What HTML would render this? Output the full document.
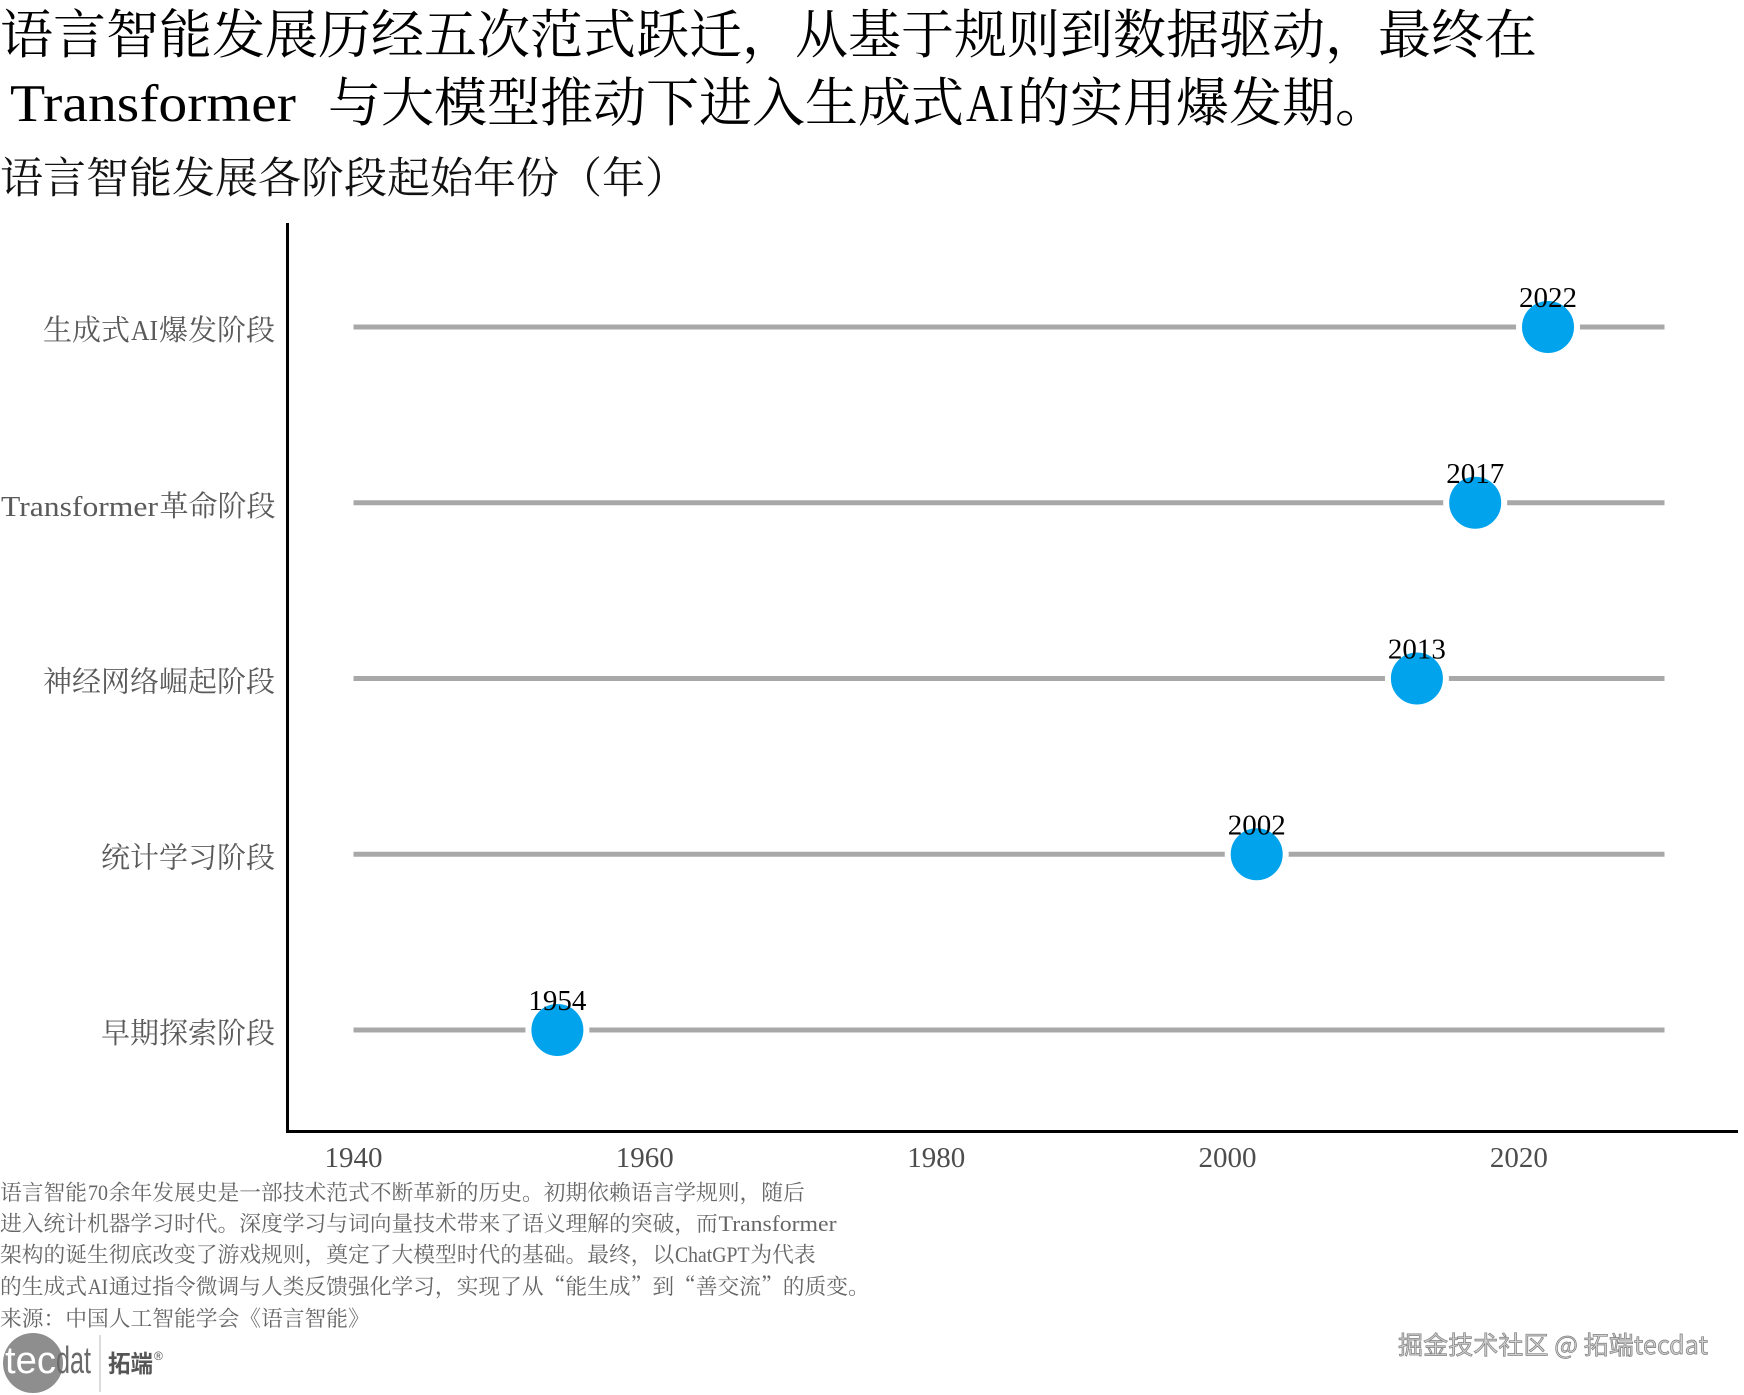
<!DOCTYPE html>
<html>
<head>
<meta charset="utf-8">
<style>
  html,body{margin:0;padding:0;background:#fff;}
  svg{display:block;}
  .cjk{font-family:"Noto Serif CJK SC","Liberation Serif",serif;}
  .mono{font-family:"Liberation Serif","Noto Serif CJK SC",serif;}
  .num{font-family:"Liberation Serif","Noto Serif CJK SC",serif;}
</style>
</head>
<body>
<svg width="1744" height="1395" viewBox="0 0 1744 1395" xmlns="http://www.w3.org/2000/svg">
  <rect x="0" y="0" width="1744" height="1395" fill="#ffffff"/>

  <!-- Title -->
  <text class="cjk" x="0" y="53" font-size="53" fill="#000" textLength="1537" lengthAdjust="spacing">语言智能发展历经五次范式跃迁，从基于规则到数据驱动，最终在</text>
  <text class="mono" x="10" y="121" font-size="53" fill="#000" textLength="286" lengthAdjust="spacingAndGlyphs">Transformer</text>
  <text class="cjk" x="328" y="121" font-size="53" fill="#000" textLength="636" lengthAdjust="spacing">与大模型推动下进入生成式</text>
  <text class="mono" x="966" y="121" font-size="53" fill="#000" textLength="48" lengthAdjust="spacingAndGlyphs">AI</text>
  <text class="cjk" x="1017" y="121" font-size="53" fill="#000" textLength="371" lengthAdjust="spacing">的实用爆发期。</text>

  <!-- Subtitle -->
  <text class="cjk" x="0" y="193" font-size="43" fill="#111" textLength="688" lengthAdjust="spacing">语言智能发展各阶段起始年份（年）</text>

  <!-- Axes -->
  <line x1="287.5" y1="223" x2="287.5" y2="1133" stroke="#000" stroke-width="3"/>
  <line x1="286" y1="1131.5" x2="1738" y2="1131.5" stroke="#000" stroke-width="3"/>

  <!-- Gray lines -->
  <g stroke="#a8a8a8" stroke-width="5">
    <line x1="353.5" y1="327" x2="1664.5" y2="327"/>
    <line x1="353.5" y1="502.75" x2="1664.5" y2="502.75"/>
    <line x1="353.5" y1="678.5" x2="1664.5" y2="678.5"/>
    <line x1="353.5" y1="854.25" x2="1664.5" y2="854.25"/>
    <line x1="353.5" y1="1030" x2="1664.5" y2="1030"/>
  </g>

  <!-- Dots -->
  <g fill="#00a3ec" stroke="#ffffff" stroke-width="6">
    <circle cx="1548" cy="327" r="29"/>
    <circle cx="1475.2" cy="502.75" r="29"/>
    <circle cx="1416.9" cy="678.5" r="29"/>
    <circle cx="1256.7" cy="854.25" r="29"/>
    <circle cx="557.4" cy="1030" r="29"/>
  </g>

  <!-- Value labels -->
  <g class="num" font-size="29" fill="#000" text-anchor="middle">
    <text x="1548" y="307">2022</text>
    <text x="1475.2" y="482.75">2017</text>
    <text x="1416.9" y="658.5">2013</text>
    <text x="1256.7" y="834.25">2002</text>
    <text x="557.4" y="1010">1954</text>
  </g>

  <!-- Y labels -->
  <g font-size="29" fill="#5a5a5a">
    <text class="cjk" x="43" y="340" textLength="87" lengthAdjust="spacing">生成式</text>
    <text class="mono" x="131" y="340" textLength="27" lengthAdjust="spacingAndGlyphs">AI</text>
    <text class="cjk" x="159" y="340" textLength="116" lengthAdjust="spacing">爆发阶段</text>

    <text class="mono" x="1" y="515.75" textLength="157" lengthAdjust="spacingAndGlyphs">Transformer</text>
    <text class="cjk" x="159.5" y="515.75" textLength="116" lengthAdjust="spacing">革命阶段</text>

    <text class="cjk" x="43" y="691.5" textLength="232" lengthAdjust="spacing">神经网络崛起阶段</text>
    <text class="cjk" x="101" y="867.25" textLength="174" lengthAdjust="spacing">统计学习阶段</text>
    <text class="cjk" x="101" y="1043" textLength="174" lengthAdjust="spacing">早期探索阶段</text>
  </g>

  <!-- X tick labels -->
  <g class="num" font-size="29" fill="#4d4d4d" text-anchor="middle">
    <text x="353.5" y="1167">1940</text>
    <text x="644.8" y="1167">1960</text>
    <text x="936.2" y="1167">1980</text>
    <text x="1227.5" y="1167">2000</text>
    <text x="1518.9" y="1167">2020</text>
  </g>

  <!-- Caption -->
  <g font-size="21.75" fill="#666">
    <text class="cjk" x="0" y="1200" textLength="87" lengthAdjust="spacing">语言智能</text>
    <text class="mono" x="88" y="1200" textLength="20" lengthAdjust="spacingAndGlyphs">70</text>
    <text class="cjk" x="108.75" y="1200" textLength="696" lengthAdjust="spacing">余年发展史是一部技术范式不断革新的历史。初期依赖语言学规则，随后</text>

    <text class="cjk" x="0" y="1231" textLength="717.75" lengthAdjust="spacing">进入统计机器学习时代。深度学习与词向量技术带来了语义理解的突破，而</text>
    <text class="mono" x="718.5" y="1231" textLength="118" lengthAdjust="spacingAndGlyphs">Transformer</text>

    <text class="cjk" x="0" y="1262" textLength="674.25" lengthAdjust="spacing">架构的诞生彻底改变了游戏规则，奠定了大模型时代的基础。最终，以</text>
    <text class="mono" x="675" y="1262" textLength="74.5" lengthAdjust="spacingAndGlyphs">ChatGPT</text>
    <text class="cjk" x="750.4" y="1262" textLength="65.25" lengthAdjust="spacing">为代表</text>

    <text class="cjk" x="0" y="1294" textLength="87" lengthAdjust="spacing">的生成式</text>
    <text class="mono" x="88" y="1294" textLength="20" lengthAdjust="spacingAndGlyphs">AI</text>
    <text class="cjk" x="108.75" y="1294" textLength="761" lengthAdjust="spacing">通过指令微调与人类反馈强化学习，实现了从“能生成”到“善交流”的质变。</text>

    <text class="cjk" x="0" y="1326" textLength="369.75" lengthAdjust="spacing">来源：中国人工智能学会《语言智能》</text>
  </g>

  <!-- Logo -->
  <circle cx="33" cy="1363" r="30" fill="#8e8e8e"/>
  <text x="5" y="1373" font-family="Liberation Sans, sans-serif" font-size="38" fill="#ffffff" textLength="51" lengthAdjust="spacingAndGlyphs">tec</text>
  <text x="56" y="1373" font-family="Liberation Sans, sans-serif" font-size="38" fill="#6a6a6a" textLength="35" lengthAdjust="spacingAndGlyphs">dat</text>
  <line x1="100" y1="1335" x2="100" y2="1392" stroke="#c4c4c4" stroke-width="1.2"/>
  <text x="108" y="1372" font-family="Noto Sans CJK SC, sans-serif" font-weight="bold" font-size="24" fill="#555" textLength="45" lengthAdjust="spacingAndGlyphs">拓端</text>
  <text x="154" y="1360" font-family="Liberation Sans, sans-serif" font-size="12" fill="#555">®</text>

  <!-- Watermark -->
  <text x="1398" y="1354" font-family="Noto Sans CJK SC, Liberation Sans, sans-serif" font-size="25" fill="#d0d0d0" stroke="#7d7d7d" stroke-width="0.7" textLength="310" lengthAdjust="spacing">掘金技术社区 @ 拓端tecdat</text>
</svg>
</body>
</html>
